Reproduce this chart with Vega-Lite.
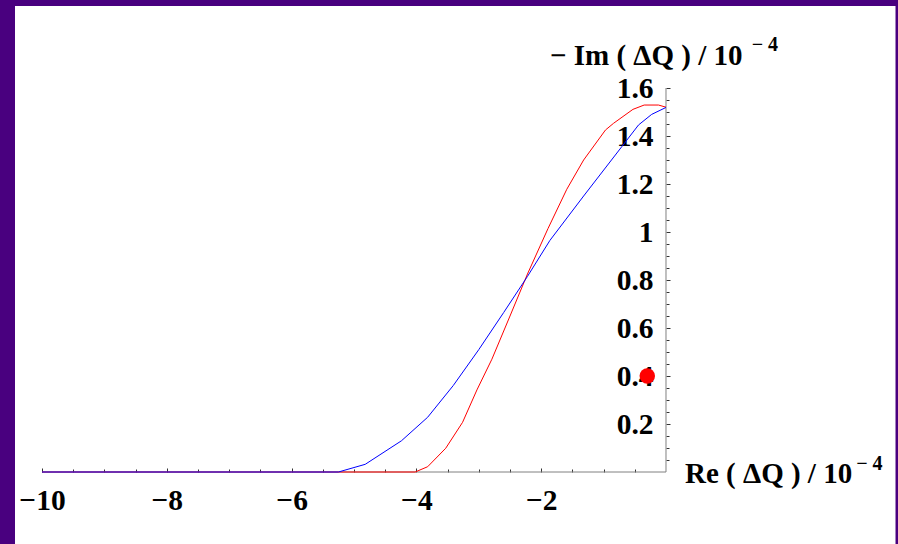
{
  "$schema": "https://vega.github.io/schema/vega-lite/v6.json",
  "width": 880.5,
  "height": 538,
  "autosize": {"type": "none"},
  "padding": {"left": 15, "top": 6, "right": 2.5, "bottom": 0},
  "background": "#49007f",
  "config": {"view": {"stroke": null, "fill": "white"}, "font": "Liberation Serif"},
  "datasets": {
    "red": [
      {"re": -10, "im": 0}, {"re": -9, "im": 0}, {"re": -8, "im": 0}, {"re": -7, "im": 0},
      {"re": -6, "im": 0}, {"re": -5, "im": 0}, {"re": -4.02, "im": 0},
      {"re": -3.82, "im": 0.022}, {"re": -3.53, "im": 0.099}, {"re": -3.26, "im": 0.207},
      {"re": -3.03, "im": 0.342}, {"re": -2.79, "im": 0.47}, {"re": -2.5, "im": 0.65},
      {"re": -2.22, "im": 0.825}, {"re": -1.89, "im": 1.015}, {"re": -1.59, "im": 1.178},
      {"re": -1.32, "im": 1.3}, {"re": -0.97, "im": 1.425}, {"re": -0.84, "im": 1.453},
      {"re": -0.53, "im": 1.511}, {"re": -0.35, "im": 1.529}, {"re": -0.12, "im": 1.529},
      {"re": 0, "im": 1.52}
    ],
    "blue": [
      {"re": -10, "im": 0}, {"re": -9, "im": 0}, {"re": -8, "im": 0}, {"re": -7, "im": 0},
      {"re": -6, "im": 0}, {"re": -5.25, "im": 0}, {"re": -4.82, "im": 0.032},
      {"re": -4.24, "im": 0.13}, {"re": -3.82, "im": 0.228}, {"re": -3.41, "im": 0.36},
      {"re": -3.0, "im": 0.51}, {"re": -2.6, "im": 0.665}, {"re": -2.22, "im": 0.815},
      {"re": -1.86, "im": 0.965}, {"re": -1.32, "im": 1.15}, {"re": -0.71, "im": 1.355},
      {"re": -0.44, "im": 1.446}, {"re": -0.23, "im": 1.49}, {"re": 0, "im": 1.519}
    ],
    "dot": [{"re": -0.3, "im": 0.4}]
  },
  "resolve": {"axis": {"x": "independent", "y": "independent"}},
  "layer": [
    {
      "data": {"values": [{}]},
      "mark": {"type": "rule", "color": "#808080", "strokeWidth": 1},
      "encoding": {
        "x": {"datum": -10, "type": "quantitative", "scale": {"domain": [-10.4327, 3.6779], "nice": false, "zero": false}, "axis": null},
        "x2": {"datum": 0},
        "y": {"datum": 0, "type": "quantitative", "scale": {"domain": [-0.3, 1.94167], "nice": false, "zero": false}, "axis": null}
      }
    },
    {
      "data": {"values": [{}]},
      "mark": {"type": "rule", "color": "#808080", "strokeWidth": 1},
      "encoding": {
        "x": {"datum": 0, "type": "quantitative", "scale": {"domain": [-10.4327, 3.6779], "nice": false, "zero": false}, "axis": null},
        "y": {"datum": 0, "type": "quantitative", "scale": {"domain": [-0.3, 1.94167], "nice": false, "zero": false}, "axis": null},
        "y2": {"datum": 1.6}
      }
    },
    {
      "data": {"name": "red"},
      "mark": {"type": "line", "color": "#ff0000", "strokeWidth": 1},
      "encoding": {
        "x": {"field": "re", "type": "quantitative", "scale": {"domain": [-10.4327, 3.6779], "nice": false, "zero": false},
          "axis": {"orient": "bottom", "offset": -72, "title": null, "values": [-9.5, -9, -8.5, -7.5, -7, -6.5, -5.5, -5, -4.5, -3.5, -3, -2.5, -1.5, -1, -0.5],
            "labels": false, "domain": false, "grid": false, "tickSize": -3, "tickColor": "#333333"}},
        "y": {"field": "im", "type": "quantitative", "scale": {"domain": [-0.3, 1.94167], "nice": false, "zero": false},
          "axis": {"orient": "left", "title": null, "offset": -651,
            "values": [0.05, 0.1, 0.15, 0.25, 0.3, 0.35, 0.45, 0.5, 0.55, 0.65, 0.7, 0.75, 0.85, 0.9, 0.95, 1.05, 1.1, 1.15, 1.25, 1.3, 1.35, 1.45, 1.5, 1.55],
            "labels": false, "domain": false, "grid": false, "tickSize": -3, "tickColor": "#333333"}}
      }
    },
    {
      "data": {"name": "blue"},
      "mark": {"type": "line", "color": "#0000ff", "strokeWidth": 1},
      "encoding": {
        "x": {"field": "re", "type": "quantitative", "scale": {"domain": [-10.4327, 3.6779], "nice": false, "zero": false},
          "axis": {"orient": "bottom", "offset": -72, "title": null, "values": [-10, -8, -6, -4, -2], "format": "d",
            "grid": false, "domain": false, "tickColor": "#333333", "tickSize": -4,
            "labelFont": "Liberation Serif", "labelFontWeight": "bold", "labelFontSize": 29.5, "labelColor": "black",
            "labelBaseline": "alphabetic", "labelPadding": 41, "labelFlush": false, "labelOverlap": false}},
        "y": {"field": "im", "type": "quantitative", "scale": {"domain": [-0.3, 1.94167], "nice": false, "zero": false},
          "axis": {"orient": "left", "title": null, "offset": -651, "values": [0.2, 0.4, 0.6, 0.8, 1, 1.2, 1.4, 1.6], "format": ".1~f",
            "grid": false, "domain": false, "tickColor": "#333333", "tickSize": -4,
            "labelFont": "Liberation Serif", "labelFontWeight": "bold", "labelFontSize": 29.5, "labelColor": "black",
            "labelBaseline": "middle", "labelPadding": 17, "labelFlush": false, "labelOverlap": false}}
      }
    },
    {
      "data": {"name": "dot"},
      "mark": {"type": "point", "filled": true, "color": "#ff0000", "opacity": 1, "size": 240},
      "encoding": {
        "x": {"field": "re", "type": "quantitative", "scale": {"domain": [-10.4327, 3.6779], "nice": false, "zero": false}, "axis": null},
        "y": {"field": "im", "type": "quantitative", "scale": {"domain": [-0.3, 1.94167], "nice": false, "zero": false}, "axis": null}
      }
    },
    {
      "data": {"values": [{"t": "Re ( ΔQ ) / 10"}]},
      "mark": {"type": "text", "font": "Liberation Serif", "fontWeight": "bold", "fontSize": 29, "align": "left", "baseline": "alphabetic", "color": "black"},
      "encoding": {
        "x": {"datum": 0.3045, "type": "quantitative", "scale": {"domain": [-10.4327, 3.6779], "nice": false, "zero": false}, "axis": null},
        "y": {"datum": -0.0446, "type": "quantitative", "scale": {"domain": [-0.3, 1.94167], "nice": false, "zero": false}, "axis": null},
        "text": {"field": "t"}
      }
    },
    {
      "data": {"values": [{"t": "− 4"}]},
      "mark": {"type": "text", "font": "Liberation Serif", "fontWeight": "bold", "fontSize": 20, "align": "left", "baseline": "alphabetic", "color": "black"},
      "encoding": {
        "x": {"datum": 3.048, "type": "quantitative", "scale": {"domain": [-10.4327, 3.6779], "nice": false, "zero": false}, "axis": null},
        "y": {"datum": 0.0083, "type": "quantitative", "scale": {"domain": [-0.3, 1.94167], "nice": false, "zero": false}, "axis": null},
        "text": {"field": "t"}
      }
    },
    {
      "data": {"values": [{"t": "− Im ( ΔQ ) / 10"}]},
      "mark": {"type": "text", "font": "Liberation Serif", "fontWeight": "bold", "fontSize": 29, "align": "left", "baseline": "alphabetic", "color": "black"},
      "encoding": {
        "x": {"datum": -1.859, "type": "quantitative", "scale": {"domain": [-10.4327, 3.6779], "nice": false, "zero": false}, "axis": null},
        "y": {"datum": 1.696, "type": "quantitative", "scale": {"domain": [-0.3, 1.94167], "nice": false, "zero": false}, "axis": null},
        "text": {"field": "t"}
      }
    },
    {
      "data": {"values": [{"t": "− 4"}]},
      "mark": {"type": "text", "font": "Liberation Serif", "fontWeight": "bold", "fontSize": 20, "align": "left", "baseline": "alphabetic", "color": "black"},
      "encoding": {
        "x": {"datum": 1.373, "type": "quantitative", "scale": {"domain": [-10.4327, 3.6779], "nice": false, "zero": false}, "axis": null},
        "y": {"datum": 1.755, "type": "quantitative", "scale": {"domain": [-0.3, 1.94167], "nice": false, "zero": false}, "axis": null},
        "text": {"field": "t"}
      }
    }
  ]
}
